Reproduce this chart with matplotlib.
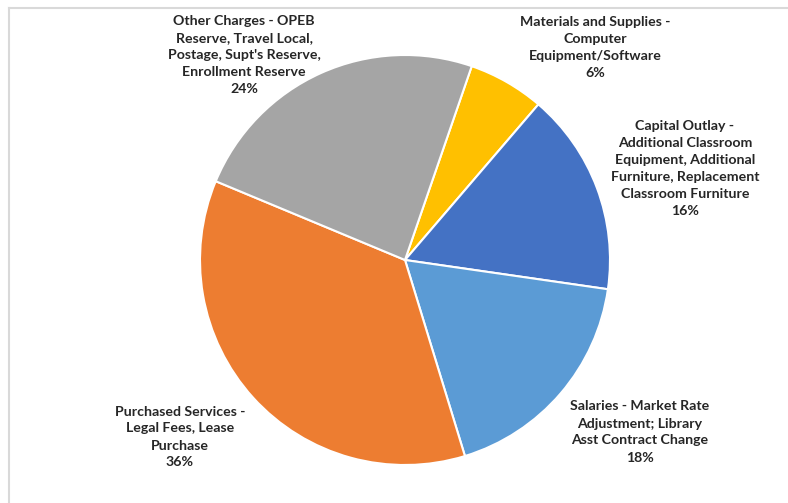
import matplotlib
matplotlib.use("Agg")
import matplotlib.pyplot as plt
from matplotlib.lines import Line2D

categories = [
    "Materials and Supplies -\nComputer\nEquipment/Software",
    "Capital Outlay -\nAdditional Classroom\nEquipment, Additional\nFurniture, Replacement\nClassroom Furniture",
    "Salaries - Market Rate\nAdjustment; Library\nAsst Contract Change",
    "Purchased Services -\nLegal Fees, Lease\nPurchase",
    "Other Charges - OPEB\nReserve, Travel Local,\nPostage, Supt's Reserve,\nEnrollment Reserve",
]
values = [6, 16, 18, 36, 24]
colors = ["#FFC000", "#4472C4", "#5B9BD5", "#ED7D31", "#A5A5A5"]

W, H = 788, 503
fig = plt.figure(figsize=(W / 100, H / 100), dpi=100)
ax = fig.add_axes([0, 0, 1, 1])

# chart area border (light gray, open on the right and bottom)
fig.add_artist(Line2D([8.5 / W, 8.5 / W], [0, 1 - 7.5 / H], transform=fig.transFigure,
                      color="#D9D9D9", lw=1.5))
fig.add_artist(Line2D([8.5 / W, 1], [1 - 7.5 / H, 1 - 7.5 / H], transform=fig.transFigure,
                      color="#D9D9D9", lw=1.5))

ax.pie(values, colors=colors, startangle=71, counterclock=False,
       center=(405, H - 260), radius=205,
       wedgeprops=dict(edgecolor="white", linewidth=1.5))

# pie() resets the limits, so fix the pixel-based frame afterwards
ax.set_xlim(0, W)
ax.set_ylim(0, H)
ax.set_aspect("equal")
ax.axis("off")

# label anchor points (text block centres, pixel coordinates from top-left)
label_pos = [(595, 47), (685, 168), (640, 432), (180, 437), (244, 55)]

for cat, v, (lx, ly) in zip(categories, values, label_pos):
    ax.text(lx, H - ly, f"{cat}\n{v}%", ha="center", va="center",
            fontsize=10.2, fontweight="bold", family=["Lato", "DejaVu Sans"],
            color="#262626", linespacing=1.5)

fig.savefig("out.png", dpi=100)
